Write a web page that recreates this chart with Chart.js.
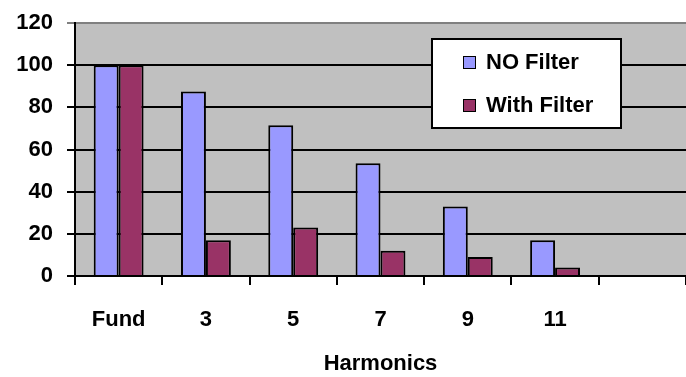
<!DOCTYPE html>
<html lang="en">
<head>
  <meta charset="UTF-8" />
  <title>Harmonics</title>
  <script src="https://cdn.jsdelivr.net/npm/chart.js"></script>
  <style>
    html, body { margin: 0; padding: 0; background: #fff; }
    #wrap { width: 686px; height: 377px; }
  </style>
</head>
<body>
  <div id="wrap"><canvas id="grafico" width="686" height="377"></canvas></div>
  <script>
    // data
    const categorias = ["Fund", "3", "5", "7", "9", "11", ""];
    const semFiltro = [100, 87.5, 71.5, 53.5, 33, 17, null];
    const comFiltro = [100, 17, 23, 12, 9, 4, null];
    const nomes = ["NO Filter", "With Filter"];
    const cores = ["#9999FF", "#993366"];

    const fonte = { family: "'Liberation Sans', Arial, sans-serif", size: 22, weight: "bold" };

    // gray plot area
    const fundoPlot = {
      id: "fundoPlot",
      beforeDraw(chart) {
        const a = chart.chartArea;
        const ctx = chart.ctx;
        ctx.save();
        ctx.fillStyle = "#C0C0C0";
        ctx.fillRect(a.left, a.top, a.right - a.left, a.bottom - a.top);
        ctx.restore();
      }
    };

    // legend box drawn inside the plot, white with black border
    const legendaCaixa = {
      id: "legendaCaixa",
      afterDraw(chart) {
        const ctx = chart.ctx;
        ctx.save();
        ctx.fillStyle = "#fff";
        ctx.strokeStyle = "#000";
        ctx.lineWidth = 2;
        ctx.fillRect(432, 39, 189, 89);
        ctx.strokeRect(432, 39, 189, 89);
        ctx.font = "bold 22px 'Liberation Sans', Arial, sans-serif";
        ctx.textBaseline = "middle";
        chart.data.datasets.forEach((ds, i) => {
          const y = 62 + i * 43;
          ctx.fillStyle = ds.backgroundColor;
          ctx.fillRect(463, y - 6, 12, 12);
          ctx.lineWidth = 1;
          ctx.strokeRect(463.5, y - 5.5, 12, 12);
          ctx.fillStyle = "#000";
          ctx.fillText(ds.label, 486, y + 1);
        });
        ctx.restore();
      }
    };

    new Chart(document.getElementById("grafico"), {
      type: "bar",
      data: {
        labels: categorias,
        datasets: [
          { label: nomes[0], data: semFiltro, backgroundColor: cores[0], borderColor: "#000", borderWidth: 2 },
          { label: nomes[1], data: comFiltro, backgroundColor: cores[1], borderColor: "#000", borderWidth: 2 }
        ]
      },
      options: {
        responsive: false,
        animation: false,
        layout: { padding: { top: 23, right: 0, left: 0, bottom: 0 } },
        datasets: { bar: { categoryPercentage: 2 / 3.5, barPercentage: 1 } },
        plugins: {
          legend: { display: false },
          tooltip: { enabled: false }
        },
        scales: {
          x: {
            afterFit(scale) { scale.height = 101; },
            grid: { drawOnChartArea: false, color: "#000", lineWidth: 2, tickLength: 9, offset: true },
            border: { color: "#000", width: 2 },
            ticks: { color: "#000", font: fonte, padding: 22, maxRotation: 0 },
            title: { display: true, text: "Harmonics", color: "#000", font: fonte, padding: { top: 0, bottom: 0 } }
          },
          y: {
            min: 0,
            max: 120,
            afterFit(scale) {
              scale.width = 75;
              scale.paddingTop = 0;
              scale.paddingBottom = 0;
            },
            grid: {
              color: ctx => (ctx.tick && ctx.tick.value === 120 ? "#808080" : "#000"),
              lineWidth: 2,
              tickLength: 8
            },
            border: { color: "#000", width: 2 },
            ticks: { stepSize: 20, color: "#000", font: fonte, padding: 14 }
          }
        }
      },
      plugins: [fundoPlot, legendaCaixa]
    });
  </script>
</body>
</html>
